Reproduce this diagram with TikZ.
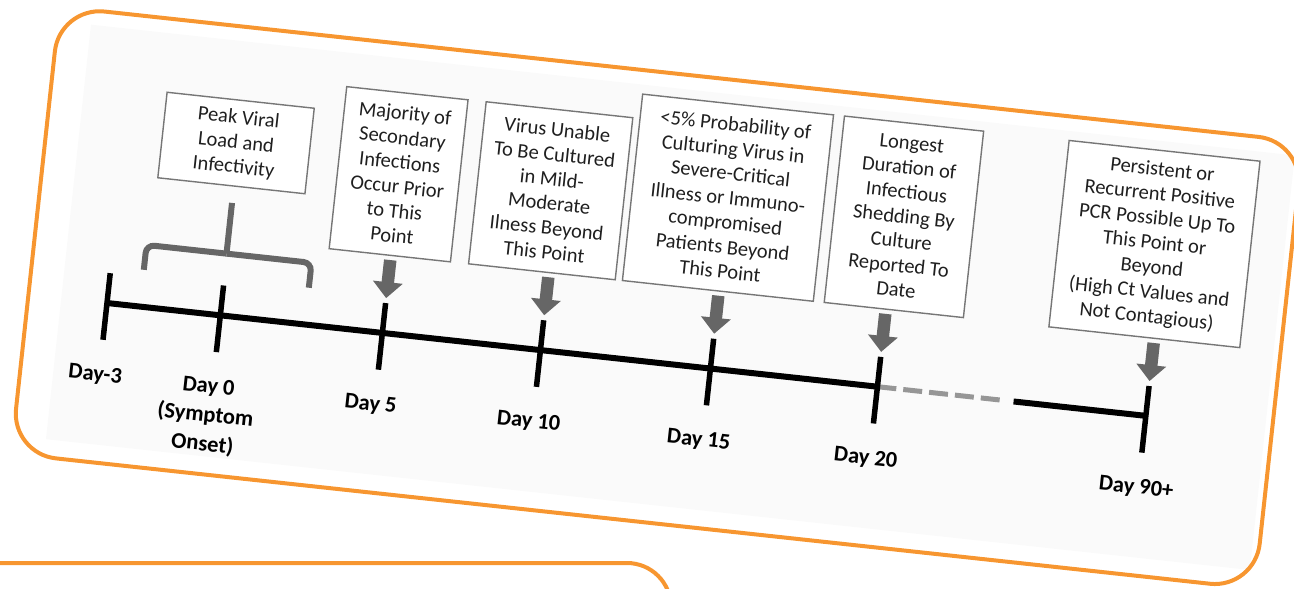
\documentclass[tikz,border=0pt]{standalone}
\usepackage{fontspec}
\setmainfont{Carlito}
\usetikzlibrary{arrows.meta,calc}

\definecolor{frameorange}{RGB}{247,150,48}
\definecolor{arrowgray}{RGB}{102,102,102}
\definecolor{dashgray}{RGB}{150,150,150}
\definecolor{boxgray}{RGB}{118,118,118}
\definecolor{shotbg}{RGB}{250,250,250}

\tikzset{
  frameline/.style={draw=frameorange, line width=4pt},
  infobox/.style={draw=boxgray, line width=1.4pt, fill=white, inner sep=0pt,
    align=center, text=black!88, font=\fontsize{20.5}{24.6}\selectfont},
  daylabel/.style={anchor=north, inner sep=0pt, align=center,
    font=\fontsize{22.5}{29}\selectfont\bfseries},
  axisline/.style={line width=6pt, black},
  tickline/.style={line width=5.5pt, black},
  gapline/.style={line width=5pt, dashgray, dash pattern=on 19pt off 7pt},
  bracketline/.style={line width=6pt, arrowgray, rounded corners=8pt},
  blockarrow/.style={line width=12.5pt, arrowgray, shorten <=4pt,
    -{Triangle[width=29pt,length=16pt]}},
}

\begin{document}
\begin{tikzpicture}[x=1pt,y=1pt]
\useasboundingbox (0,0) rectangle (1294,-589);

% second panel peeking in at the bottom
\draw[frameline, rounded corners=44pt] (-10,-563) -- (671,-563) -- (671,-650);

\begin{scope}[shift={(107,-303)}, rotate=-6.2, transform shape]
  % panel frame and the light backdrop of the timeline
  \fill[shotbg] (-46,275) rectangle (1165,-142);
  \draw[frameline, rounded corners=45pt] (-79,289.5) rectangle (1172,-160);

  % tick marks and arrow tips
  \foreach \u/\n in {0/m3, 114/d0, 277/d5, 436/d10, 607/d15, 775/d20, 1045/d90} {
    \coordinate (t\n) at (\u,0);
    \coordinate (p\n) at (\u,35);
  }
  \coordinate (gapA) at (901,0);
  \coordinate (gapB) at (912,0);

  % time axis
  \draw[axisline] (tm3) -- (td20);
  \draw[gapline] (td20) -- (gapA);
  \draw[axisline] (gapB) -- (td90);
  \foreach \u in {0,114,277,436,607,775,1045}
    \draw[tickline] (\u,30) -- (\u,-37);

  % day labels
  \node[daylabel] (lm3) at (-4,-63.5) {Day-3};
  \node[daylabel] (ld0) at (110,-63.5) {Day 0\\(Symptom\\Onset)};
  \node[daylabel] (ld5) at (273,-63.5) {Day 5};
  \node[daylabel] (ld10) at (432,-63.5) {Day 10};
  \node[daylabel] (ld15) at (603,-63.5) {Day 15};
  \node[daylabel] (ld20) at (771,-63.5) {Day 20};
  \node[daylabel] (ld90) at (1043,-63.5) {Day 90+};

  % annotation boxes
  \node[infobox, minimum width=148pt, minimum height=86pt] (b1) at (111,173)
    {Peak Viral\\Load and\\Infectivity};
  \node[infobox, minimum width=122pt, minimum height=163pt] (b2) at (276,159.5)
    {Majority of\\Secondary\\Infections\\Occur Prior\\to This\\Point};
  \node[infobox, minimum width=147.5pt, minimum height=163pt] (b3) at (429,159.5)
    {Virus Unable\\To Be Cultured\\in Mild-\\Moderate\\Ilness Beyond\\This Point};
  \node[infobox, minimum width=192pt, minimum height=187.5pt] (b4) at (606,171.75)
    {<5\% Probability of\\Culturing Virus in\\Severe-Critical\\Illness or Immuno-\\compromised\\Patients Beyond\\This Point};
  \node[infobox, minimum width=140pt, minimum height=187.5pt] (b5) at (783,171.75)
    {Longest\\Duration of\\Infectious\\Shedding By\\Culture\\Reported To\\Date};
  \node[infobox, minimum width=192pt, minimum height=187.5pt] (b6) at (1035,171.75)
    {Persistent or\\Recurrent Positive\\PCR Possible Up To\\This Point or\\Beyond\\(High Ct Values and\\Not Contagious)};

  % bracket spanning the peak window
  \coordinate (brace) at (113.5,62);
  \coordinate (braceTop) at (113.5,113);
  \draw[bracketline] (33,37) -- (33,62) -- (brace);
  \draw[bracketline] (brace) -- (199,62) -- (199,37);
  \draw[bracketline] (brace) -- (braceTop);

  % arrows from boxes down to their days
  \draw[blockarrow] ($(b2.south west)!(pd5)!(b2.south east)$) -- (pd5);
  \draw[blockarrow] ($(b3.south west)!(pd10)!(b3.south east)$) -- (pd10);
  \draw[blockarrow] ($(b4.south west)!(pd15)!(b4.south east)$) -- (pd15);
  \draw[blockarrow] ($(b5.south west)!(pd20)!(b5.south east)$) -- (pd20);
  \draw[blockarrow] ($(b6.south west)!(pd90)!(b6.south east)$) -- (pd90);
\end{scope}
\end{tikzpicture}
\end{document}
